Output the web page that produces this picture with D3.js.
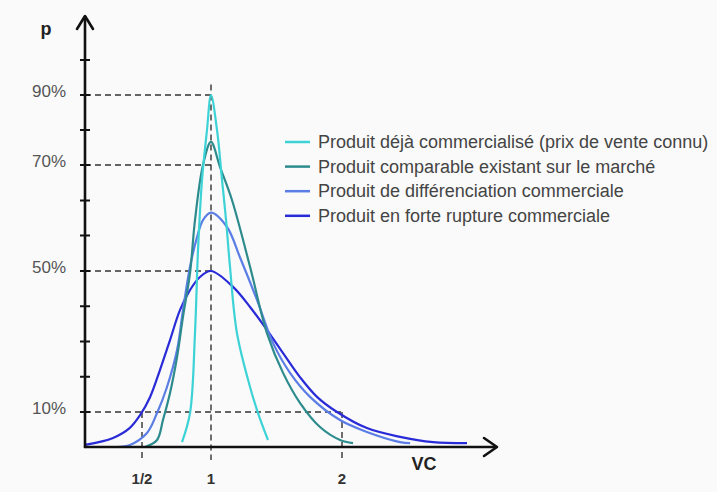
<!DOCTYPE html>
<meta charset="utf-8">
<script src="https://d3js.org/d3.v7.min.js"></script>
<style>
  body { margin: 0; background: #fafafa; }
  text { font-family: "Liberation Sans", Arial, sans-serif; }
</style>
<div id="my_dataviz"></div>
<script>

// curve data: VC value and probability p (%)
var cyanVC   = [0.79, 0.848, 0.884, 0.906, 0.935, 0.971, 1.0, 1.046, 1.084, 1.115, 1.145, 1.198, 1.298, 1.359, 1.435]
var cyanP    = [1.4, 9.7, 32.4, 54, 67.2, 80, 90, 80, 67.2, 59.6, 50.8, 32.4, 17.1, 9.7, 2.0]

var tealVC   = [0.522, 0.609, 0.652, 0.703, 0.754, 0.797, 0.848, 0.884, 0.942, 1.0, 1.069, 1.16, 1.298, 1.427, 1.55, 1.679, 1.832, 1.985, 2.084]
var tealP    = [0, 2.0, 7.7, 15.4, 25.6, 37.0, 49.4, 59.6, 70, 76.6, 69.6, 63.4, 50.8, 32.4, 21.1, 12.6, 5.7, 2.0, 1.1]

var lblueVC  = [0.319, 0.413, 0.536, 0.609, 0.681, 0.754, 0.797, 0.848, 0.899, 0.942, 1.0, 1.122, 1.221, 1.351, 1.473, 1.603, 1.756, 1.985, 2.19, 2.443, 2.52]
var lblueP   = [0, 0.6, 4.0, 9.7, 17.1, 27.6, 38.9, 50.8, 56.4, 59.6, 61, 58.3, 52.6, 41.8, 29.6, 21.1, 14.3, 7.7, 4.3, 1.4, 1.1]

var blueVC   = [0.087, 0.29, 0.41, 0.486, 0.558, 0.63, 0.703, 0.775, 0.848, 0.92, 1.0, 1.168, 1.298, 1.427, 1.55, 1.679, 1.809, 1.962, 2.19, 2.443, 2.695, 2.954]
var blueP    = [0.6, 2.6, 5.4, 9.1, 14.2, 21.9, 30.4, 38.9, 44.6, 48.3, 50, 45.5, 39.8, 33.3, 26.7, 19.9, 14.3, 10, 5.4, 2.9, 1.4, 1.1]

var seriesNames = ["Produit déjà commercialisé (prix de vente connu)",
                   "Produit comparable existant sur le marché",
                   "Produit de différenciation commerciale",
                   "Produit en forte rupture commerciale"]
var seriesColors = ["#3dd3d6", "#2d8b8d", "#5b7de6", "#2a2bd8"]

// axis ticks
var yTicks = [10, 20, 30, 40, 50, 56.7, 63.3, 70, 80, 90, 100]
var yLabels = [10, 50, 70, 90]
var xTicks = [0.5, 1, 2]
var xLabels = ["1/2", "1", "2"]

var width = 717, height = 492

var svg = d3.select("#my_dataviz")
  .append("svg")
    .attr("width", width)
    .attr("height", height)

svg.append("rect").attr("width", width).attr("height", height).attr("fill", "#fafafa")

// the sketch is not linear, so both scales are piecewise
var x = d3.scaleLinear()
  .domain([0.5, 1, 2])
  .range([142, 211, 342])

var y = d3.scaleLinear()
  .domain([0, 10, 50, 70, 90])
  .range([447, 412, 271, 165, 95])

var axisX = 85, axisY = 447

// dashed guide lines
var dash = svg.append("g")
  .attr("stroke", "#333")
  .attr("stroke-width", 1.4)
  .attr("stroke-dasharray", "6,4")

yLabels.forEach(function(p) {
  dash.append("line")
    .attr("x1", axisX).attr("x2", p == 10 ? x(2) : x(1))
    .attr("y1", y(p)).attr("y2", y(p))
})
dash.append("line")
  .attr("x1", x(1)).attr("x2", x(1))
  .attr("y1", y(93)).attr("y2", axisY + 13)
;[0.5, 2].forEach(function(v) {
  dash.append("line")
    .attr("x1", x(v)).attr("x2", x(v))
    .attr("y1", y(10)).attr("y2", axisY + 13)
})

// curves
var allVC = [cyanVC, tealVC, lblueVC, blueVC]
var allP = [cyanP, tealP, lblueP, blueP]

var line = d3.line()
  .x(function(d) { return x(d[0]) })
  .y(function(d) { return y(d[1]) })
  .curve(d3.curveCatmullRom.alpha(0.5))

for (var i = allVC.length - 1; i >= 0; i--) {
  var pts = allVC[i].map(function(v, j) { return [v, allP[i][j]] })
  svg.append("path")
    .datum(pts)
    .attr("fill", "none")
    .attr("stroke", seriesColors[i])
    .attr("stroke-width", 2.2)
    .attr("d", line)
}

// axes
var ax = svg.append("g")
  .attr("stroke", "#111")
  .attr("stroke-width", 2.6)
  .attr("fill", "none")
  .attr("stroke-linecap", "round")
  .attr("stroke-linejoin", "round")

ax.append("line").attr("x1", axisX).attr("x2", axisX).attr("y1", axisY).attr("y2", 17)
ax.append("path").attr("d", "M" + (axisX - 8) + ",29L" + axisX + ",16L" + (axisX + 8) + ",29")
ax.append("line").attr("x1", axisX).attr("x2", 496).attr("y1", axisY).attr("y2", axisY)
ax.append("path").attr("d", "M484," + (axisY - 9) + "L497," + axisY + "L484," + (axisY + 9))

svg.append("g")
  .selectAll("line")
  .data(yTicks)
  .enter()
  .append("line")
    .attr("x1", axisX - 5).attr("x2", axisX + 5)
    .attr("y1", function(d) { return y(d) })
    .attr("y2", function(d) { return y(d) })
    .attr("stroke", "#111")
    .attr("stroke-width", 2)

svg.append("g")
  .selectAll("text")
  .data(yLabels)
  .enter()
  .append("text")
    .attr("x", 66)
    .attr("y", function(d) { return y(d) + 2 })
    .attr("text-anchor", "end")
    .style("font-size", "17px")
    .style("fill", "#555")
    .text(function(d) { return d + "%" })

svg.append("g")
  .selectAll("text")
  .data(xTicks)
  .enter()
  .append("text")
    .attr("x", function(d) { return x(d) })
    .attr("y", 484)
    .attr("text-anchor", "middle")
    .style("font-size", "15px")
    .style("font-weight", "bold")
    .style("fill", "#333")
    .text(function(d, i) { return xLabels[i] })

svg.append("text")
  .attr("x", 46).attr("y", 35)
  .attr("text-anchor", "middle")
  .style("font-size", "18px")
  .style("font-weight", "bold")
  .style("fill", "#222")
  .text("p")

svg.append("text")
  .attr("x", 424).attr("y", 470)
  .attr("text-anchor", "middle")
  .style("font-size", "18px")
  .style("font-weight", "bold")
  .style("fill", "#222")
  .text("VC")

// legend
var legend = svg.append("g")
  .selectAll("g")
  .data(seriesNames)
  .enter()
  .append("g")
    .attr("transform", function(d, i) { return "translate(285," + (142 + i * 24.6) + ")" })

legend.append("line")
  .attr("x1", 0).attr("x2", 25)
  .attr("stroke", function(d, i) { return seriesColors[i] })
  .attr("stroke-width", 2.5)

legend.append("text")
  .attr("x", 33)
  .attr("y", 6)
  .style("font-size", "18px")
  .style("fill", "#444")
  .text(function(d) { return d })

</script>
